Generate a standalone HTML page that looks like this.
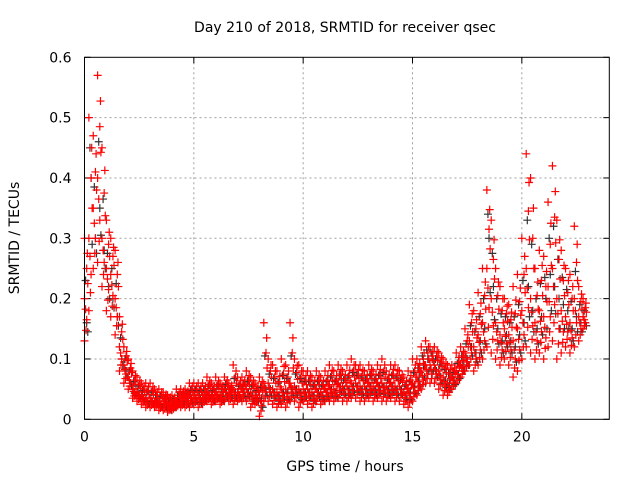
<!DOCTYPE html>
<html><head><meta charset="utf-8"><style>
body{margin:0;background:#fff}
svg{display:block;font-family:"DejaVu Sans","Liberation Sans",sans-serif}
</style></head><body>
<svg id="chart" width="640" height="480" viewBox="0 0 640 480">
<rect width="640" height="480" fill="#fff"/>
<text x="345" y="32" text-anchor="middle" font-size="14" fill="#000">Day 210 of 2018, SRMTID for receiver qsec</text>
<text x="345" y="471" text-anchor="middle" font-size="14" fill="#000">GPS time / hours</text>
<text transform="translate(19,238) rotate(-90)" text-anchor="middle" font-size="14" fill="#000">SRMTID / TECUs</text>
<g id="grid"></g>
<g id="ticks"></g>
<g id="black"></g>
<g id="red"></g>
<rect x="84.5" y="57.3" width="524.8" height="362" fill="none" stroke="#000" stroke-width="1"/>
</svg>
<script>
const xTicks=[0,5,10,15,20];
const yTicks=[0,0.1,0.2,0.3,0.4,0.5,0.6];
const yTickLabels=["0","0.1","0.2","0.3","0.4","0.5","0.6"];
const hi=[0.30,0.50,0.47,0.57,0.45,0.33,0.30,0.28,0.17,0.12,0.10,0.08,0.07,0.06,0.06,0.06,0.05,0.05,0.045,0.04,0.04,0.05,0.05,0.05,0.06,0.06,0.06,0.06,0.07,0.06,0.07,0.06,0.07,0.06,0.09,0.07,0.07,0.08,0.07,0.06,0.07,0.16,0.10,0.09,0.08,0.10,0.09,0.16,0.10,0.09,0.08,0.08,0.07,0.08,0.07,0.08,0.09,0.08,0.09,0.08,0.09,0.10,0.09,0.09,0.08,0.09,0.08,0.09,0.10,0.08,0.09,0.09,0.08,0.07,0.08,0.10,0.10,0.12,0.13,0.12,0.12,0.11,0.10,0.09,0.09,0.11,0.12,0.15,0.19,0.18,0.21,0.25,0.38,0.33,0.25,0.22,0.20,0.19,0.22,0.24,0.30,0.44,0.40,0.25,0.28,0.27,0.36,0.42,0.33,0.28,0.25,0.24,0.32,0.22,0.20];
const lo=[0.13,0.18,0.25,0.26,0.22,0.18,0.17,0.14,0.08,0.06,0.05,0.035,0.03,0.025,0.02,0.02,0.02,0.015,0.015,0.012,0.015,0.02,0.02,0.02,0.02,0.025,0.02,0.025,0.03,0.025,0.03,0.025,0.03,0.03,0.025,0.03,0.03,0.03,0.02,0.025,0.005,0.03,0.03,0.025,0.02,0.025,0.02,0.03,0.03,0.02,0.03,0.025,0.02,0.03,0.025,0.03,0.03,0.03,0.035,0.03,0.03,0.035,0.035,0.03,0.03,0.035,0.03,0.035,0.03,0.03,0.035,0.03,0.03,0.025,0.02,0.03,0.04,0.05,0.06,0.06,0.06,0.05,0.04,0.04,0.05,0.06,0.07,0.08,0.09,0.08,0.09,0.10,0.12,0.11,0.10,0.09,0.10,0.09,0.07,0.08,0.10,0.12,0.11,0.10,0.11,0.10,0.12,0.13,0.10,0.11,0.12,0.11,0.12,0.13,0.15];
const mid=[0.2,0.3,0.35,0.4,0.3,0.25,0.24,0.2,0.12,0.09,0.07,0.05,0.045,0.04,0.035,0.035,0.03,0.03,0.03,0.025,0.025,0.03,0.035,0.035,0.04,0.04,0.04,0.04,0.045,0.04,0.045,0.04,0.05,0.045,0.05,0.045,0.05,0.05,0.045,0.04,0.04,0.06,0.06,0.05,0.045,0.05,0.05,0.06,0.055,0.05,0.05,0.05,0.045,0.05,0.045,0.05,0.055,0.05,0.06,0.055,0.055,0.06,0.06,0.055,0.055,0.06,0.055,0.06,0.06,0.055,0.06,0.055,0.055,0.045,0.05,0.06,0.07,0.08,0.09,0.09,0.09,0.08,0.07,0.06,0.07,0.08,0.09,0.11,0.13,0.12,0.14,0.16,0.25,0.2,0.16,0.14,0.15,0.14,0.13,0.15,0.18,0.25,0.2,0.16,0.18,0.17,0.22,0.25,0.2,0.18,0.17,0.16,0.2,0.17,0.17];
const blackVals=[0.16,0.4,0.3,0.35,0.28,0.22,0.2,0.17,0.1,0.08,0.06,0.045,0.04,0.035,0.03,0.03,0.03,0.025,0.025,0.02,0.025,0.03,0.03,0.035,0.035,0.035,0.035,0.04,0.04,0.035,0.04,0.04,0.045,0.04,0.045,0.04,0.045,0.045,0.04,0.035,0.035,0.05,0.05,0.045,0.04,0.045,0.045,0.05,0.05,0.045,0.045,0.045,0.04,0.045,0.04,0.045,0.05,0.045,0.055,0.05,0.05,0.055,0.055,0.05,0.05,0.055,0.05,0.055,0.055,0.05,0.055,0.05,0.05,0.04,0.045,0.055,0.07,0.09,0.1,0.1,0.08,0.07,0.065,0.06,0.065,0.075,0.09,0.1,0.12,0.11,0.13,0.15,0.3,0.22,0.15,0.13,0.14,0.13,0.12,0.14,0.16,0.22,0.18,0.15,0.17,0.2,0.24,0.22,0.2,0.19,0.18,0.15,0.17,0.16,0.16];
const timeStep=0.2;

const NS="http://www.w3.org/2000/svg";
const L=84.5,R=609.3,T=57.3,B=419.3,XMAX=24,YMAX=0.6;
function xs(v){return L+(R-L)*v/XMAX;}
function ys(v){return B-(B-T)*v/YMAX;}
function mk(tag,attrs,parent){const e=document.createElementNS(NS,tag);for(const k in attrs)e.setAttribute(k,attrs[k]);parent.appendChild(e);return e;}
const grid=document.getElementById('grid'),ticks=document.getElementById('ticks');
yTicks.forEach((v,i)=>{
  const y=ys(v);
  if(i>0&&i<yTicks.length-1){const g=mk('line',{x1:L,x2:R,y1:y,y2:y,stroke:'#a0a0a0','stroke-dasharray':'2,3'},grid);
  
  }
  mk('line',{x1:L,x2:L+6,y1:y,y2:y,stroke:'#000'},ticks);
  mk('line',{x1:R,x2:R-6,y1:y,y2:y,stroke:'#000'},ticks);
  const t=mk('text',{x:L-13,y:y+5,'text-anchor':'end','font-size':'14',fill:'#000'},ticks);
  t.textContent=yTickLabels[i];
  
  
});
xTicks.forEach(v=>{
  const x=xs(v);
  if(v>0){const g=mk('line',{x1:x,x2:x,y1:T,y2:B,stroke:'#a0a0a0','stroke-dasharray':'2,3'},grid);
  
  }
  mk('line',{x1:x,x2:x,y1:B,y2:B-6,stroke:'#000'},ticks);
  mk('line',{x1:x,x2:x,y1:T,y2:T+6,stroke:'#000'},ticks);
  const t=mk('text',{x:x,y:B+22,'text-anchor':'middle','font-size':'14',fill:'#000'},ticks);
  t.textContent=String(v);
  
  
});
function plus(g,t,v,color){
  const x=xs(t),y=ys(v);
  const p=mk('path',{d:`M${x-4},${y}H${x+4}M${x},${y-4}V${y+4}`,stroke:color,'stroke-width':'1.2',fill:'none'},g);
  
  
}
const bg=document.getElementById('black'),rg=document.getElementById('red');
blackVals.forEach((v,i)=>{
  plus(bg,i*timeStep+0.1,v,'#333333');
  if(i<hi.length){plus(bg,i*timeStep+0.05,(v+hi[i])/2,'#333333');plus(bg,i*timeStep+0.15,(v+lo[i])/2,'#333333');}
});
[hi,lo,mid].forEach(arr=>arr.forEach((v,i)=>plus(rg,i*timeStep,v,'#ff0000')));
mid.forEach((v,i)=>{
  if(i<hi.length&&i<lo.length){
    plus(rg,i*timeStep+0.1,(v+hi[i])/2,'#ff0000');
    plus(rg,i*timeStep+0.1,(v+lo[i])/2,'#ff0000');
    plus(rg,i*timeStep+0.05,(3*v+lo[i])/4,'#ff0000');
    plus(rg,i*timeStep+0.15,(3*v+hi[i])/4,'#ff0000');
    plus(rg,i*timeStep+0.07,(v+3*lo[i])/4,'#ff0000');
    plus(rg,i*timeStep+0.13,(v+3*hi[i])/4,'#ff0000');
  }
});
</script>
</body></html>
